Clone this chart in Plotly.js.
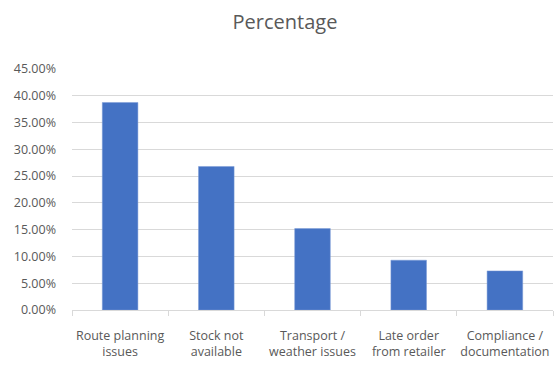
<!DOCTYPE html>
<html><head><meta charset="utf-8">
<script src="https://cdn.plot.ly/plotly-3.0.1.min.js"></script>
<style>html,body{margin:0;padding:0;background:#fff;}#chart{width:556px;height:372px;}</style>
</head><body><div id="chart"></div>
<script>
const categories = ["Route planning<br>issues", "Stock not<br>available", "Transport /<br>weather issues", "Late order<br>from retailer", "Compliance /<br>documentation"];
const percentages = [38.75, 26.8, 15.2, 9.3, 7.3];
const yTickValues = [0, 5, 10, 15, 20, 25, 30, 35, 40, 45];
const yTickLabels = yTickValues.map(v => v.toFixed(2) + '%');

Plotly.newPlot('chart', [{
  type: 'bar',
  x: categories,
  y: percentages,
  marker: {color: '#4472c4', line: {color: '#7a9bd6', width: 0.5}},
  hoverinfo: 'skip'
}], {
  width: 556, height: 372,
  margin: {l: 72, r: 3, t: 69, b: 62},
  paper_bgcolor: '#fff', plot_bgcolor: '#fff',
  title: {text: 'Percentage', font: {family: 'Open Sans, sans-serif', size: 20, color: '#595959'}, xref: 'container', x: 0.5126, xanchor: 'center', yref: 'container', y: 0.94, yanchor: 'middle'},
  bargap: 0.63,
  xaxis: {
    type: 'category', tickson: 'boundaries', ticks: 'outside', ticklen: 5, tickcolor: '#d9d9d9',
    showline: true, linecolor: '#d9d9d9', linewidth: 1, showgrid: false,
    tickangle: 0, ticklabelstandoff: 14,
    tickfont: {family: 'Open Sans, sans-serif', size: 12.5, color: '#595959'}
  },
  yaxis: {
    range: [0, 45], tickmode: 'array', tickvals: yTickValues, ticktext: yTickLabels,
    showgrid: true, gridcolor: '#d9d9d9', gridwidth: 1, zeroline: false, showline: false,
    ticks: '', ticklabelstandoff: 15,
    tickfont: {family: 'Open Sans, sans-serif', size: 12.5, color: '#595959'}
  },
  showlegend: false
}, {displayModeBar: false, staticPlot: true});
</script></body></html>
